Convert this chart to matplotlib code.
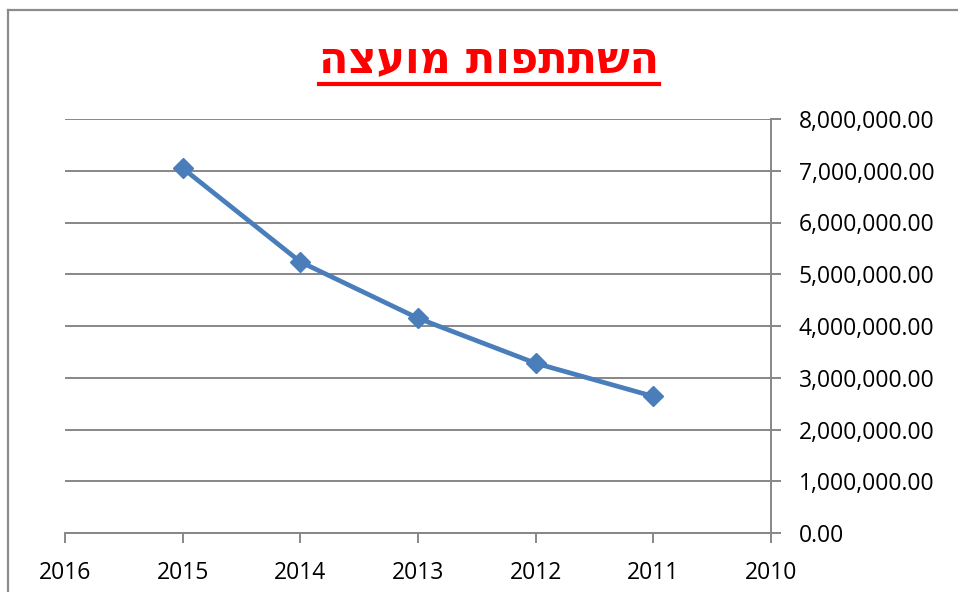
import matplotlib
matplotlib.use("Agg")
import matplotlib.pyplot as plt
from matplotlib.ticker import FuncFormatter, MultipleLocator
from matplotlib.lines import Line2D

# data
years = [2015, 2014, 2013, 2012, 2011]
values = [7050000, 5240000, 4150000, 3280000, 2640000]
title_text = "השתתפות מועצה"

BLUE = "#4A7EBB"
GRID = "#878787"

fig = plt.figure(figsize=(9.58, 5.92), dpi=100)
ax = fig.add_axes([65 / 958, 1 - 533 / 592, (771 - 65) / 958, (533 - 119) / 592])

ax.plot(years, values, color=BLUE, linewidth=3.4, marker="D", markersize=10,
        markerfacecolor=BLUE, markeredgecolor=BLUE, zorder=3)

ax.set_xlim(2016, 2010)
ax.set_ylim(0, 8000000)
ax.xaxis.set_major_locator(MultipleLocator(1))
ax.yaxis.set_major_locator(MultipleLocator(1000000))
ax.xaxis.set_major_formatter(FuncFormatter(lambda v, p: f"{int(round(v))}"))
ax.yaxis.set_major_formatter(FuncFormatter(lambda v, p: f"{v:,.2f}"))

ax.yaxis.tick_right()
ax.grid(axis="y", color=GRID, linewidth=1.4)
ax.set_axisbelow(True)
for s in ["top", "left"]:
    ax.spines[s].set_visible(False)
for s in ["right", "bottom"]:
    ax.spines[s].set_color(GRID)
    ax.spines[s].set_linewidth(1.4)
ax.tick_params(axis="both", colors=GRID, width=1.4, length=7, labelcolor="black",
               labelsize=16.5)
ax.tick_params(axis="x", pad=13)
ax.tick_params(axis="y", pad=13)
for lab in ax.get_xticklabels() + ax.get_yticklabels():
    lab.set_fontfamily(["Open Sans", "DejaVu Sans"])

# title (RTL reversed for display) with underline
t = fig.text(489 / 958, 1 - 60 / 592, title_text[::-1], color="#FF0000",
             fontsize=31, fontweight="bold", ha="center", va="center",
             family=["DejaVu Sans"])
fig.canvas.draw()
bb = t.get_window_extent().transformed(fig.transFigure.inverted())
fig.add_artist(Line2D([bb.x0, bb.x1], [1 - 84 / 592] * 2, color="#FF0000",
                      linewidth=3, transform=fig.transFigure))

# chart border (top and left visible)
fig.add_artist(Line2D([8 / 958, 8 / 958], [0, 1 - 10 / 592], color="#8C8C8C",
                      linewidth=1.6, transform=fig.transFigure))
fig.add_artist(Line2D([8 / 958, 1], [1 - 10 / 592] * 2, color="#8C8C8C",
                      linewidth=1.6, transform=fig.transFigure))

fig.savefig("out.png", dpi=100)
